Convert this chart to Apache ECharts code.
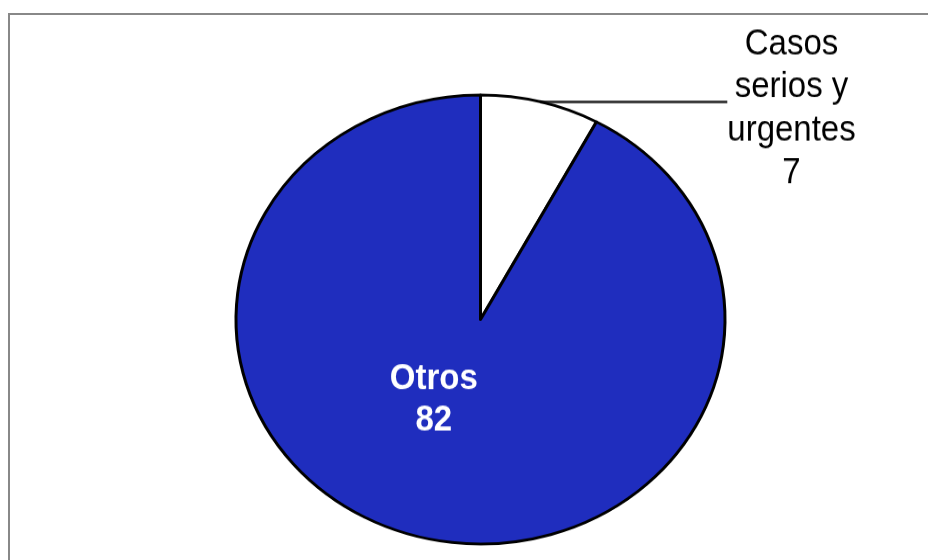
<!DOCTYPE html>
<html>
<head>
<meta charset="utf-8">
<script src="https://cdn.jsdelivr.net/npm/echarts@6/dist/echarts.min.js"></script>
<style>
  html, body { margin: 0; padding: 0; background: #ffffff; overflow: hidden; }
  #wrap { position: relative; width: 928px; height: 560px; overflow: hidden; background: #fff; }
  #frame { position: absolute; left: 8px; top: 13px; width: 1000px; height: 1000px;
           border-left: 2.5px solid #888888; border-top: 2px solid #888888; box-sizing: border-box; }
  #pie { position: absolute; left: 0; top: 0; width: 928px; height: 660px;
         transform: scaleY(0.9182); transform-origin: 0 319.5px; }
  #labels { position: absolute; left: 0; top: 0; width: 928px; height: 520px;
            transform: scaleY(1.09); transform-origin: 0 0; }
</style>
</head>
<body>
<div id="wrap">
  <div id="frame"></div>
  <div id="pie"></div>
  <div id="labels"></div>
</div>
<script>
// ---- data ----
const categories = ['Casos serios y urgentes', 'Otros'];
const values = [7, 82];
const labelTexts = ['Casos\nserios y\nurgentes', 'Otros'];
const sliceColors = ['#ffffff', '#1f2dbe'];

const seriesData = categories.map((c, i) => ({ name: c, value: values[i] }));

// ---- chart A: the (elliptical) slices ----
const chartA = echarts.init(document.getElementById('pie'), null, { renderer: 'canvas' });
chartA.setOption({
  animation: false,
  series: [{
    type: 'pie',
    silent: true,
    center: [480.5, 319.5],
    radius: [0, 244.5],
    startAngle: 90,
    clockwise: true,
    label: { show: false },
    labelLine: { show: false },
    emphasis: { disabled: true },
    itemStyle: {
      color: (p) => sliceColors[p.dataIndex],
      borderColor: '#000000',
      borderWidth: 3
    },
    data: seriesData
  }]
});

// ---- chart B: labels and leader line ----
const chartB = echarts.init(document.getElementById('labels'), null, { renderer: 'canvas' });
chartB.setOption({
  animation: false,
  series: [{
    type: 'pie',
    silent: true,
    center: [480.5, 330.7],
    radius: [0, 244.5],
    startAngle: 90,
    clockwise: true,
    avoidLabelOverlap: false,
    emphasis: { disabled: true },
    itemStyle: { color: 'rgba(0,0,0,0)', borderWidth: 0 },
    labelLayout: function (p) {
      if (p.dataIndex === 1) return { dx: -16, dy: -85 };
      return {};
    },
    data: seriesData.map((d, i) => {
      if (i === 0) {
        return {
          name: d.name, value: d.value,
          label: {
            show: true,
            position: 'outside',
            distanceToLabelLine: 0,
            padding: [13, 0, 0, 0],
            formatter: (p) => (labelTexts[p.dataIndex] + '\n' + p.value)
              .split('\n').map(s => '{c|' + s + '}').join('\n'),
            rich: {
              c: { fontFamily: 'Liberation Sans, Arial, sans-serif', fontSize: 33,
                   lineHeight: 39.5, color: '#000000', align: 'center' }
            }
          },
          labelLine: {
            show: true, length: 0.01, length2: 187, smooth: false,
            lineStyle: { color: '#000000', width: 2 }
          }
        };
      }
      return {
        name: d.name, value: d.value,
        label: {
          show: true,
          position: 'inside',
          formatter: (p) => labelTexts[p.dataIndex] + '\n' + p.value,
          fontFamily: 'Liberation Sans, Arial, sans-serif',
          fontSize: 33, fontWeight: 'bold', lineHeight: 38.5,
          color: '#ffffff', align: 'center'
        },
        labelLine: { show: false }
      };
    })
  }]
});
</script>
</body>
</html>
